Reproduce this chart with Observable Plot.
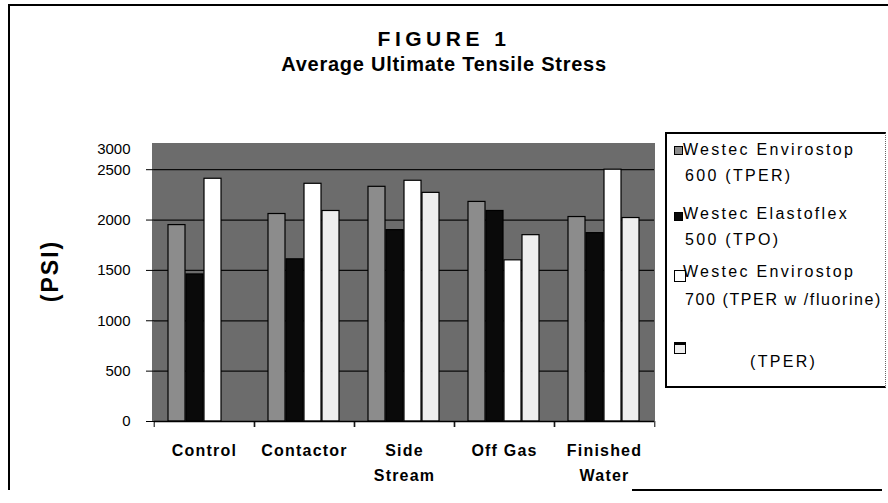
<!DOCTYPE html>
<html><head><meta charset="utf-8">
<script src="https://cdn.jsdelivr.net/npm/d3@7"></script>
<script src="https://cdn.jsdelivr.net/npm/@observablehq/plot@0.6"></script>
<style>
body{margin:0;background:#fff;font-family:"Liberation Sans",Arial,sans-serif;color:#000;}
#wrap{position:relative;width:888px;height:503px;overflow:hidden;background:#fff;}
#chart{position:absolute;left:0;top:0;}
#plotbg{position:absolute;background:#6c6c6c;}
#chart g[aria-label="fx-axis tick label"]{letter-spacing:1.2px;}
.abs{position:absolute;white-space:nowrap;}
.title1{left:0;width:888px;text-align:center;top:27px;font-size:21px;font-weight:bold;letter-spacing:4.5px;}
.title2{left:0;width:888px;text-align:center;top:53px;font-size:20px;font-weight:bold;letter-spacing:0.75px;}
.ylab{left:50px;top:271px;font-size:23px;font-weight:bold;letter-spacing:2px;transform:translate(-50%,-50%) rotate(-90deg);}
#legend{position:absolute;left:665px;top:132px;width:218px;height:252px;border-left:2px solid #000;border-top:2px solid #000;border-bottom:2px solid #000;border-right:1px dotted #666;}
.lt{font-size:16px;letter-spacing:2.3px;line-height:16px;}
.ic{position:absolute;box-sizing:border-box;border:1.5px solid #000;}
</style></head><body>
<div id="wrap">
  <div class="abs" style="left:8px;top:4px;width:880px;height:2px;background:#000"></div>
  <div class="abs" style="left:8px;top:5px;width:1.5px;height:485px;background:#000"></div>
  <div class="abs" style="left:632px;top:489px;width:250px;height:1.5px;background:#000"></div>
  <div id="plotbg"></div>
  <div id="chart"></div>
  <div class="abs title1">FIGURE 1</div>
  <div class="abs title2">Average Ultimate Tensile Stress</div>
  <div class="abs ylab">(PSI)</div>
  <div id="legend"></div>
</div>
<script>
// ---- data ----
const categories = ["Control", "Contactor", "Side Stream", "Off Gas", "Finished Water"];
const categoryLabels = ["Control", "Contactor", "Side\nStream", "Off Gas", "Finished\nWater"];
const seriesNames = ["Westec Envirostop 600 (TPER)", "Westec Elastoflex 500 (TPO)", "Westec Envirostop 700 (TPER w/fluorine)", "(TPER)"];
const legendLines = [["Westec Envirostop", "600 (TPER)"], ["Westec Elastoflex", "500 (TPO)"], ["Westec Envirostop", "700 (TPER w /fluorine)"], ["", "(TPER)"]];
const envirostop600 = [1950, 2060, 2330, 2180, 2030];
const elastoflex500 = [1460, 1610, 1900, 2090, 1870];
const envirostop700 = [2410, 2360, 2390, 1600, 2500];
const tper4 = [null, 2090, 2270, 1850, 2020];
const yTicks = [0, 500, 1000, 1500, 2000, 2500];
const yTopLabel = "3000";
const yTop = 2760;

// ---- styles / layout ----
const seriesColors = ["#8c8c8c", "#0a0a0a", "#ffffff", "#efefef"];
const W = 888, H = 503, mT = 143, mL = 152, mR = 233, mB = 82;

const bg = document.getElementById("plotbg");
bg.style.left = mL + "px"; bg.style.top = mT + "px";
bg.style.width = (W - mL - mR) + "px"; bg.style.height = (H - mT - mB) + "px";

const seriesValues = [envirostop600, elastoflex500, envirostop700, tper4];
const data = [];
categories.forEach((c, i) => seriesValues.forEach((vals, j) => {
  if (vals[i] != null) data.push({category: c, series: seriesNames[j], value: vals[i]});
}));
const labelOf = new Map(categories.map((c, i) => [c, categoryLabels[i]]));
const halfBand = (W - mL - mR) / categories.length / 2;

const chart = Plot.plot({
  width: W, height: H,
  marginTop: mT, marginLeft: mL, marginRight: mR, marginBottom: mB,
  style: {fontFamily: "Liberation Sans, Arial, sans-serif", fontSize: "15px", color: "#000", background: "transparent"},
  fx: {domain: categories, padding: 0, label: null, axis: null},
  x: {domain: seriesNames, paddingInner: 0.03, paddingOuter: 0.75, axis: null},
  y: {domain: [0, yTop], axis: null},
  color: {domain: seriesNames, range: seriesColors},
  marks: [
    Plot.gridY(yTicks, {stroke: "#000", strokeOpacity: 0.9, strokeWidth: 1.2}),
    Plot.barY(data, {fx: "category", x: "series", y: "value", fill: "series", stroke: "#000", strokeWidth: 1.2}),
    Plot.ruleY([0], {stroke: "#000", strokeWidth: 1.5}),
    Plot.axisY(yTicks, {tickSize: 8, tickPadding: 16, fontSize: 15, label: null, stroke: "#000", tickFormat: d => String(d)}),
    Plot.text([yTopLabel], {text: d => d, frameAnchor: "top-left", facetAnchor: "left", dx: -24, dy: 0, textAnchor: "end", fontSize: 15}),
    Plot.axisFx({anchor: "bottom", label: null, tickSize: 0, tickPadding: 16, fontSize: 16, fontWeight: "bold", lineHeight: 1.6, tickFormat: c => labelOf.get(c)}),
    Plot.axisFx({anchor: "bottom", label: null, tickSize: 6, tickFormat: () => "", dx: -halfBand, stroke: "#000"}),
    Plot.axisFx(categories.slice(-1), {anchor: "bottom", label: null, tickSize: 6, tickFormat: () => "", dx: halfBand, stroke: "#000"})
  ]
});
document.getElementById("chart").appendChild(chart);

// ---- legend ----
const legend = document.getElementById("legend");
const iconTops = [12, 78, 136, 208];
const iconSizes = [9, 9, 12, 12];
const lineTops = [[8, 34], [72, 98], [130, 158], [null, 220]];
seriesNames.forEach((s, j) => {
  const ic = document.createElement("div");
  ic.className = "ic";
  ic.style.left = "7px"; ic.style.top = iconTops[j] + "px";
  ic.style.width = iconSizes[j] + "px"; ic.style.height = iconSizes[j] + "px";
  ic.style.background = seriesColors[j];
  if (j === 3) ic.style.borderTopWidth = "3px";
  legend.appendChild(ic);
  legendLines[j].forEach((t, k) => {
    if (!t) return;
    const d = document.createElement("div");
    d.className = "abs lt";
    d.textContent = t;
    d.style.top = lineTops[j][k] + "px";
    d.style.left = (j === 3 ? 83 : (k === 0 ? 16 : 18)) + "px";
    if (j === 2 && k === 1) d.style.letterSpacing = "1.6px";
    legend.appendChild(d);
  });
});
</script>
</body></html>
